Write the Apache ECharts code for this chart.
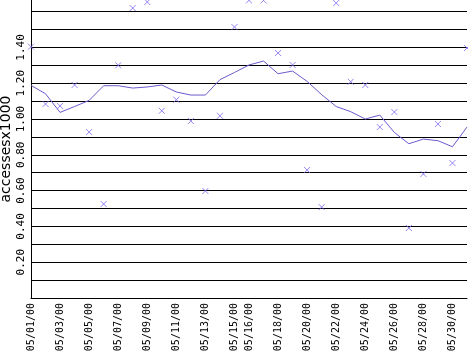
<!DOCTYPE html>
<html>
<head>
<meta charset="utf-8">
<script src="https://cdn.jsdelivr.net/npm/echarts@6/dist/echarts.min.js"></script>
<style>
html,body{margin:0;padding:0;background:#fff;}
#c{width:468px;height:351px;}
</style>
</head>
<body>
<div id="c"></div>
<script>
var dates = ['05/01/00','05/02/00','05/03/00','05/04/00','05/05/00','05/06/00','05/07/00','05/08/00','05/09/00','05/10/00','05/11/00','05/12/00','05/13/00','05/14/00','05/15/00','05/16/00','05/17/00','05/18/00','05/19/00','05/20/00','05/21/00','05/22/00','05/23/00','05/24/00','05/25/00','05/26/00','05/27/00','05/28/00','05/29/00','05/30/00','05/31/00'];
var shownDates = ['05/01/00','05/03/00','05/05/00','05/07/00','05/09/00','05/11/00','05/13/00','05/15/00','05/16/00','05/18/00','05/20/00','05/22/00','05/24/00','05/26/00','05/28/00','05/30/00'];
var daily = [1.404,1.084,1.073,1.19,0.927,0.525,1.30,1.62,1.654,1.046,1.108,0.989,0.598,1.018,1.514,1.663,1.663,1.369,1.302,0.715,0.508,1.648,1.208,1.19,0.955,1.039,0.391,0.693,0.972,0.754,1.397];
var average = [1.188,1.141,1.037,1.07,1.104,1.186,1.186,1.173,1.179,1.19,1.151,1.134,1.134,1.22,1.26,1.302,1.324,1.253,1.268,1.21,1.136,1.07,1.041,1.0,1.022,0.925,0.862,0.888,0.879,0.845,0.955];
var yLabels = ['0.20','0.40','0.60','0.80','1.00','1.20','1.40'];

var chart = echarts.init(document.getElementById('c'), null, {renderer:'canvas'});
var monoFont = 'DejaVu Sans Mono';
chart.setOption({
  animation: false,
  backgroundColor: '#ffffff',
  grid: {left: 31, right: 1, top: 0, bottom: 53, containLabel: false, outerBoundsMode: 'none'},
  xAxis: {
    type: 'category',
    data: dates,
    boundaryGap: false,
    axisLine: {show: true, lineStyle: {color: '#000', width: 1}},
    axisTick: {show: false},
    splitLine: {show: false},
    axisLabel: {
      rotate: 90,
      margin: 5,
      fontFamily: monoFont,
      fontSize: 10,
      color: '#000',
      interval: function (idx, val) { return shownDates.indexOf(val) >= 0; }
    }
  },
  yAxis: {
    type: 'value',
    min: 0,
    max: 1.665,
    interval: 0.1,
    name: 'accessesx1000',
    nameLocation: 'middle',
    nameRotate: 90,
    nameGap: 18,
    nameMoveOverlap: false,
    nameTextStyle: {fontFamily: 'DejaVu Sans', fontSize: 14, color: '#000'},
    axisLine: {show: true, lineStyle: {color: '#000', width: 1}},
    axisTick: {show: false},
    splitLine: {show: true, showMaxLine: false, lineStyle: {color: '#000', width: 1}},
    axisLabel: {
      rotate: 90,
      margin: 4,
      fontFamily: monoFont,
      fontSize: 11,
      color: '#000',
      showMaxLabel: false,
      formatter: function (v) {
        var s = v.toFixed(2);
        return yLabels.indexOf(s) >= 0 ? s : '';
      }
    }
  },
  series: [
    {
      type: 'line',
      data: average,
      showSymbol: false,
      symbol: 'none',
      lineStyle: {color: '#6a5acd', width: 1},
      itemStyle: {color: '#6a5acd'},
      z: 3
    },
    {
      type: 'scatter',
      data: daily,
      symbol: 'path://M0,0L10,10M10,0L0,10',
      symbolSize: 6,
      itemStyle: {color: 'rgba(0,0,0,0)', borderColor: '#7b68ee', borderWidth: 1},
      z: 4
    }
  ]
});
</script>
</body>
</html>
